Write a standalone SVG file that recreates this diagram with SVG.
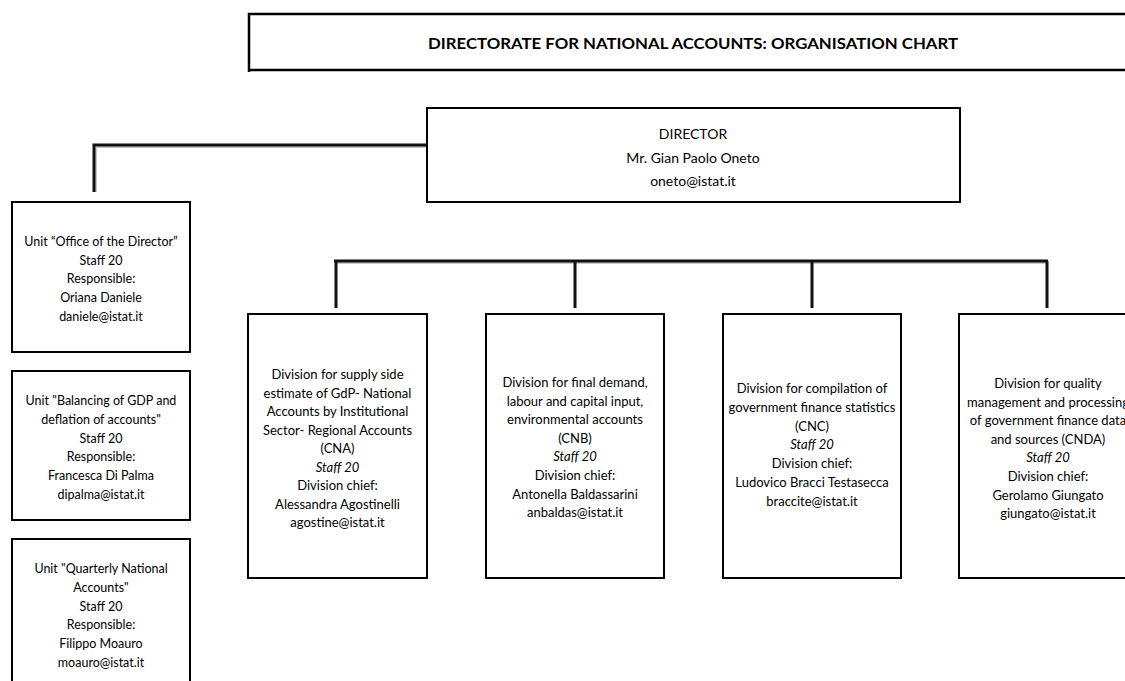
<svg xmlns="http://www.w3.org/2000/svg" width="1125" height="681" viewBox="0 0 1125 681">
<style>
.box{fill:#fff;stroke:#000;stroke-width:2}
.t{font-family:Lato,"Liberation Sans",sans-serif;font-size:13px;fill:#000;text-anchor:middle;dominant-baseline:central}
.u{font-size:12.5px}
.d{font-size:14px}
.i{font-style:italic}
.title{font-family:Lato,"Liberation Sans",sans-serif;font-weight:bold;font-size:15px;text-anchor:middle;dominant-baseline:central}
.c{fill:none;stroke:#111;stroke-width:3;stroke-linecap:butt}
.sh{fill:none;stroke:#c8c8c8;stroke-width:2}
</style>
<rect width="1125" height="681" fill="#fff"/>
<g id="connectors">
  <polyline class="sh" points="96,147 427,147"/>
  <polyline class="sh" points="96,147 96,192"/>
  <polyline class="c" points="427,145 94,145 94,192"/>
  <line class="sh" x1="336" y1="263" x2="1048" y2="263"/>
  <line class="c" x1="334" y1="261" x2="1048" y2="261"/>
  <line class="c" x1="336" y1="261" x2="336" y2="308"/>
  <line class="c" x1="575" y1="261" x2="575" y2="308"/>
  <line class="c" x1="812" y1="261" x2="812" y2="308"/>
  <line class="c" x1="1047" y1="261" x2="1047" y2="308"/>
</g>
<g id="title">
  <polyline points="1130,14 249,14 249,72" fill="none" stroke="#000" stroke-width="2.5"/>
  <line x1="248" y1="70" x2="1130" y2="70" stroke="#000" stroke-width="2.5"/>
  <text class="title" x="693" y="43" textLength="530" lengthAdjust="spacingAndGlyphs">DIRECTORATE FOR NATIONAL ACCOUNTS: ORGANISATION CHART</text>
</g>
<g id="director">
  <rect class="box" x="427" y="108" width="533" height="94"/>
  <text class="t d"><tspan x="693" y="133">DIRECTOR</tspan><tspan x="693" y="156.5">Mr. Gian Paolo Oneto</tspan><tspan x="693" y="180">oneto@istat.it</tspan></text>
</g>
<g id="unit-office">
  <rect class="box" x="12" y="202" width="178" height="150"/>
  <text class="t u"><tspan x="101" y="241">Unit “Office of the Director”</tspan><tspan x="101" y="259.7">Staff 20</tspan><tspan x="101" y="278.4">Responsible:</tspan><tspan x="101" y="297.1">Oriana Daniele</tspan><tspan x="101" y="315.8">daniele@istat.it</tspan></text>
</g>
<g id="unit-balancing">
  <rect class="box" x="12" y="371" width="178" height="149"/>
  <text class="t u"><tspan x="101" y="400">Unit "Balancing of GDP and</tspan><tspan x="101" y="418.8">deflation of accounts"</tspan><tspan x="101" y="437.6">Staff 20</tspan><tspan x="101" y="456.4">Responsible:</tspan><tspan x="101" y="475.2">Francesca Di Palma</tspan><tspan x="101" y="494">dipalma@istat.it</tspan></text>
</g>
<g id="unit-quarterly">
  <rect class="box" x="12" y="539" width="178" height="170"/>
  <text class="t u"><tspan x="101" y="568">Unit "Quarterly National</tspan><tspan x="101" y="586.8">Accounts"</tspan><tspan x="101" y="605.6">Staff 20</tspan><tspan x="101" y="624.4">Responsible:</tspan><tspan x="101" y="643.2">Filippo Moauro</tspan><tspan x="101" y="662">moauro@istat.it</tspan></text>
</g>
<g id="div-cna">
  <rect class="box" x="248" y="314" width="179" height="264"/>
  <text class="t"><tspan x="337.5" y="374">Division for supply side</tspan><tspan x="337.5" y="392.5">estimate of GdP- National</tspan><tspan x="337.5" y="411">Accounts by Institutional</tspan><tspan x="337.5" y="429.5">Sector- Regional Accounts</tspan><tspan x="337.5" y="448">(CNA)</tspan><tspan x="337.5" y="466.5" class="i">Staff 20</tspan><tspan x="337.5" y="485">Division chief:</tspan><tspan x="337.5" y="503.5">Alessandra Agostinelli</tspan><tspan x="337.5" y="522">agostine@istat.it</tspan></text>
</g>
<g id="div-cnb">
  <rect class="box" x="486" y="314" width="178" height="264"/>
  <text class="t"><tspan x="575" y="382">Division for final demand,</tspan><tspan x="575" y="400.6">labour and capital input,</tspan><tspan x="575" y="419.2">environmental accounts</tspan><tspan x="575" y="437.8">(CNB)</tspan><tspan x="575" y="456.4" class="i">Staff 20</tspan><tspan x="575" y="475">Division chief:</tspan><tspan x="575" y="493.6">Antonella Baldassarini</tspan><tspan x="575" y="512.2">anbaldas@istat.it</tspan></text>
</g>
<g id="div-cnc">
  <rect class="box" x="723" y="314" width="178" height="264"/>
  <text class="t"><tspan x="812" y="388">Division for compilation of</tspan><tspan x="812" y="406.8">government finance statistics</tspan><tspan x="812" y="425.6">(CNC)</tspan><tspan x="812" y="444.4" class="i">Staff 20</tspan><tspan x="812" y="463.2">Division chief:</tspan><tspan x="812" y="482">Ludovico Bracci Testasecca</tspan><tspan x="812" y="500.8">braccite@istat.it</tspan></text>
</g>
<g id="div-cnda">
  <rect class="box" x="959" y="314" width="178" height="264"/>
  <text class="t"><tspan x="1048" y="383">Division for quality</tspan><tspan x="1048" y="401.6">management and processing</tspan><tspan x="1048" y="420.2">of government finance data</tspan><tspan x="1048" y="438.8">and sources (CNDA)</tspan><tspan x="1048" y="457.4" class="i">Staff 20</tspan><tspan x="1048" y="476">Division chief:</tspan><tspan x="1048" y="494.6">Gerolamo Giungato</tspan><tspan x="1048" y="513.2">giungato@istat.it</tspan></text>
</g>
</svg>
